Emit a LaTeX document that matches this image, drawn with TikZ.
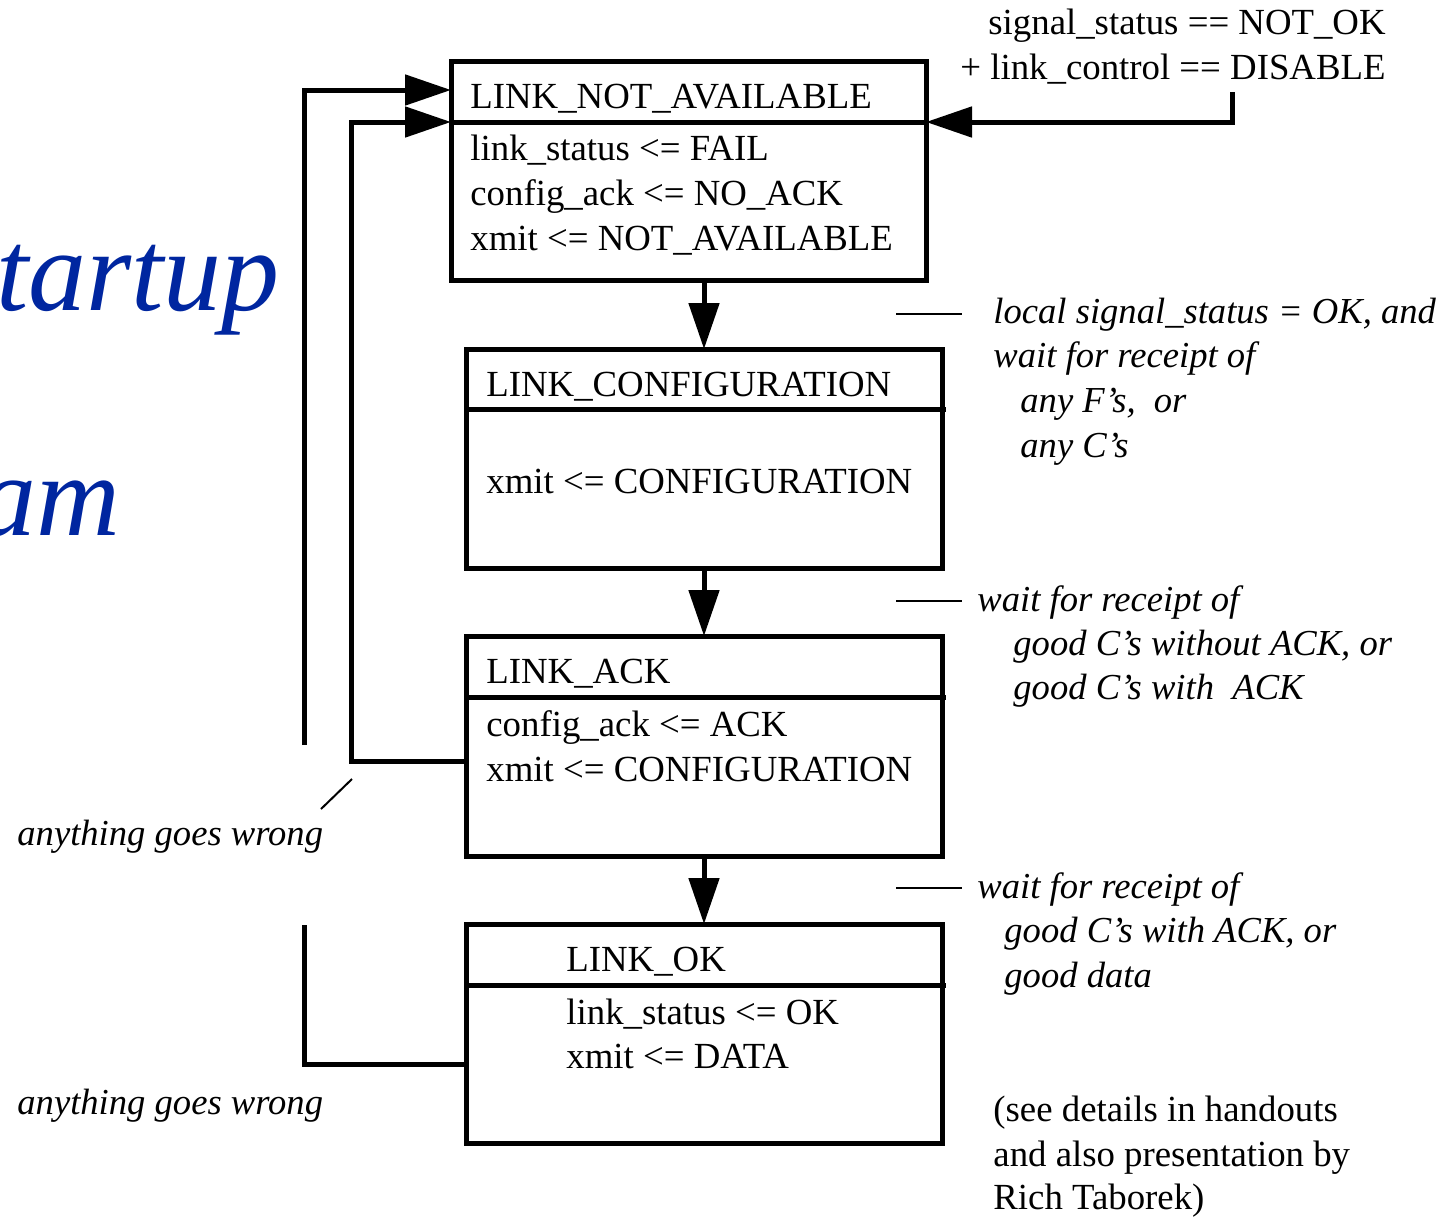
\documentclass[tikz,border=0pt]{standalone}
\usepackage{fontspec}
\setmainfont{Liberation Serif}
\usetikzlibrary{arrows.meta}
\definecolor{titleblue}{RGB}{0,38,160}
\begin{document}
\begin{tikzpicture}[x=0.5pt,y=-0.5pt,
  box/.style={draw,line width=2.5pt,anchor=north west,inner sep=0pt,outer sep=0pt,minimum height=109.5pt},
  divider/.style={line width=2.5pt},
  conn/.style={line width=2.5pt},
  arr/.style={line width=2.5pt,-{Triangle[length=23pt,width=15pt]}},
  thin/.style={line width=1pt},
  txt/.style={anchor=base west,inner sep=0pt,font=\fontsize{18.4}{20}\selectfont},
  itxt/.style={anchor=base west,inner sep=0pt,font=\fontsize{18.3}{20}\selectfont\itshape},
  big/.style={anchor=base east,inner sep=0pt,text=titleblue,font=\fontsize{58}{60}\selectfont\itshape}]
\useasboundingbox (0,0) rectangle (1450,1216);
\clip (0,0) rectangle (1450,1216);

% big partial title
\node[big] (t1) at (280,310) {tartup};
\node[big] (t2) at (121,535) {am};

% boxes
\node[box,minimum width=237.5pt] (b1) at (451,61) {};
\node[box,minimum width=238pt] (b2) at (466,349) {};
\node[box,minimum width=238pt,minimum height=110pt] (b3) at (466,636) {};
\node[box,minimum width=238pt] (b4) at (466,924) {};

% dividers
\coordinate (d1l) at (451,122); \coordinate (d1r) at (926,122);
\coordinate (d2l) at (466,409); \coordinate (d2r) at (946,409);
\coordinate (d3l) at (466,697); \coordinate (d3r) at (946,697);
\coordinate (d4l) at (466,985); \coordinate (d4r) at (946,985);
\draw[divider] (d1l) -- (d1r);
\draw[divider] (d2l) -- (d2r);
\draw[divider] (d3l) -- (d3r);
\draw[divider] (d4l) -- (d4r);

% box texts
\node[txt] (b1t) at (470,108) {LINK\_NOT\_AVAILABLE};
\node[txt] (b1a) at (470,160) {link\_status <= FAIL};
\node[txt] (b1b) at (470,205) {config\_ack <= NO\_ACK};
\node[txt] (b1c) at (470,250) {xmit <= NOT\_AVAILABLE};

\node[txt] (b2t) at (486,396) {LINK\_CONFIGURATION};
\node[txt] (b2a) at (486,493) {xmit <= CONFIGURATION};

\node[txt] (b3t) at (486,683) {LINK\_ACK};
\node[txt] (b3a) at (486,736) {config\_ack <= ACK};
\node[txt] (b3b) at (486,781) {xmit <= CONFIGURATION};

\node[txt] (b4t) at (566,971) {LINK\_OK};
\node[txt] (b4a) at (566,1024) {link\_status <= OK};
\node[txt] (b4b) at (566,1068) {xmit <= DATA};

% downward arrows
\draw[arr] (b2.north |- b1.south) -- (b2.north);
\draw[arr] (b2.south) -- (b3.north);
\draw[arr] (b3.south) -- (b4.north);

% left loops
\coordinate (o1) at (304,745);
\coordinate (in1) at (451,90);
\draw[arr] (o1) |- (in1);
\coordinate (i3) at (466,761);
\coordinate (in2) at (451,122);
\draw[arr] (i3) -| (351,400) |- (in2);
\coordinate (o2) at (304,925);
\coordinate (i4) at (466,1064);
\draw[conn] (o2) |- (i4);

% right incoming arrow
\coordinate (r1) at (1232,92);
\coordinate (r2) at (926,122);
\draw[arr] (r1) |- (r2);

% small thin markers
\coordinate (m1a) at (896,314); \coordinate (m1b) at (962,314);
\coordinate (m2a) at (896,601); \coordinate (m2b) at (962,601);
\coordinate (m3a) at (896,888); \coordinate (m3b) at (962,888);
\draw[thin] (m1a) -- (m1b);
\draw[thin] (m2a) -- (m2b);
\draw[thin] (m3a) -- (m3b);
\coordinate (s1) at (352,779); \coordinate (s2) at (321,809);
\draw[thin] (s1) -- (s2);

% top right condition
\node[txt] (c1) at (988,34) {signal\_status == NOT\_OK};
\node[txt] (c2) at (960,79) {+ link\_control == DISABLE};

% right italic annotations
\node[itxt] (n1a) at (993,323) {local signal\_status = OK, and};
\node[itxt] (n1b) at (993,367) {wait for receipt of};
\node[itxt] (n1c) at (1020,412) {any F’s,\ \ or};
\node[itxt] (n1d) at (1020,457) {any C’s};

\node[itxt] (n2a) at (977,611) {wait for receipt of};
\node[itxt] (n2b) at (1013,655) {good C’s without ACK, or};
\node[itxt] (n2c) at (1013,699) {good C’s with\ \ ACK};

\node[itxt] (n3a) at (977,898) {wait for receipt of};
\node[itxt] (n3b) at (1004,942) {good C’s with ACK, or};
\node[itxt] (n3c) at (1004,987) {good data};

\node[txt] (h1) at (993,1121) {(see details in handouts};
\node[txt] (h2) at (993,1166) {and also presentation by};
\node[txt] (h3) at (993,1209) {Rich Taborek)};

% left labels
\node[itxt] (w1) at (17,845) {anything goes wrong};
\node[itxt] (w2) at (17,1114) {anything goes wrong};
\end{tikzpicture}
\end{document}
